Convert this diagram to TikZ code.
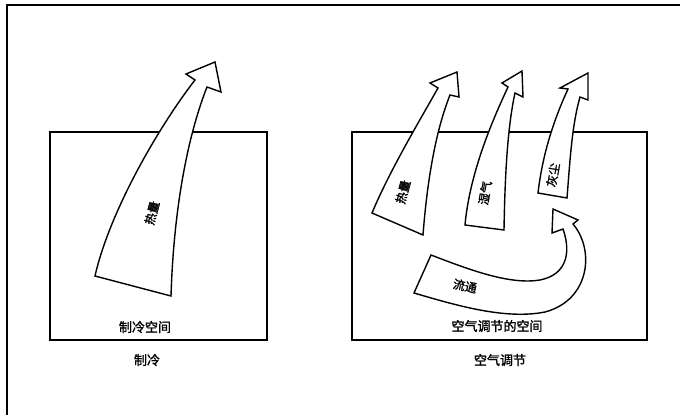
\documentclass[tikz,border=0pt]{standalone}
\usepackage{fontspec}
\newfontfamily\cjk[FakeBold=1.5]{Noto Sans CJK SC}
\begin{document}
\begin{tikzpicture}[x=1pt,y=-1pt,
  frame/.style={line width=1.8pt},
  room/.style={line width=1.4pt},
  flow/.style={line width=1.4pt, fill=white, line join=miter},
  lab/.style={font=\cjk\fontsize{13}{13}\selectfont, inner sep=0pt},
  alab/.style={font=\cjk\fontsize{12}{12}\selectfont, inner sep=0pt}]
\useasboundingbox (0,0) rectangle (680,415);
% outer frame
\coordinate (f1) at (7,415);
\coordinate (f2) at (7,5);
\coordinate (f3) at (680,5);
\draw[frame] (f1) -- (f2) -- (f3);
% boxes
\coordinate (b1a) at (50,132);
\coordinate (b1b) at (267,340);
\coordinate (b2a) at (352,132);
\coordinate (b2b) at (647,340);
\draw[room] (b1a) rectangle (b1b);
\draw[room] (b2a) rectangle (b2b);
% left arrow
\draw[flow] (95,276) -- (171,296) .. controls (174,200) and (190,130) .. (207,87)
  -- (221,92) -- (215,62) -- (186,74) -- (195,80)
  .. controls (160,125) and (110,210) .. cycle;
\node[alab, rotate=75] (h1) at (152,213) {热量};
% right arrows
\draw[flow] (372,213) -- (423,235) .. controls (428,170) and (438,125) .. (450,95)
  -- (459,97) -- (457,72) -- (430,83) -- (438,88)
  .. controls (420,120) and (390,170) .. cycle;
\node[alab, rotate=75] (h2) at (403,192) {热量};
\draw[flow] (465,225) -- (504,230) .. controls (505,170) and (508,125) .. (515,93)
  -- (523,97) -- (522,71) -- (502,83) -- (508,87)
  .. controls (495,115) and (470,170) .. cycle;
\node[alab, rotate=80] (h3) at (485,193) {湿气};
\draw[flow] (538,193) -- (567,198) .. controls (570,160) and (572,125) .. (580,97)
  -- (588,100) -- (588,73) -- (560,88) -- (568,89)
  .. controls (556,115) and (543,150) .. cycle;
\node[alab, rotate=80] (h4) at (553,175) {灰尘};
% circulation arrow
\draw[flow] (431,255) .. controls (470,270) and (510,285) .. (540,280)
  .. controls (565,275) and (572,255) .. (563,229)
  -- (552,233) -- (553,209) -- (578,220) -- (573,224)
  .. controls (595,250) and (590,300) .. (545,312)
  .. controls (505,320) and (455,305) .. (414,293) -- cycle;
\node[alab, rotate=-12] (h5) at (465,286) {流通};
% labels
\node[lab] (l1) at (145,327) {制冷空间};
\node[lab] (l2) at (147,360) {制冷};
\node[lab] (l3) at (497,326) {空气调节的空间};
\node[lab] (l4) at (500,360) {空气调节};
\end{tikzpicture}
\end{document}
